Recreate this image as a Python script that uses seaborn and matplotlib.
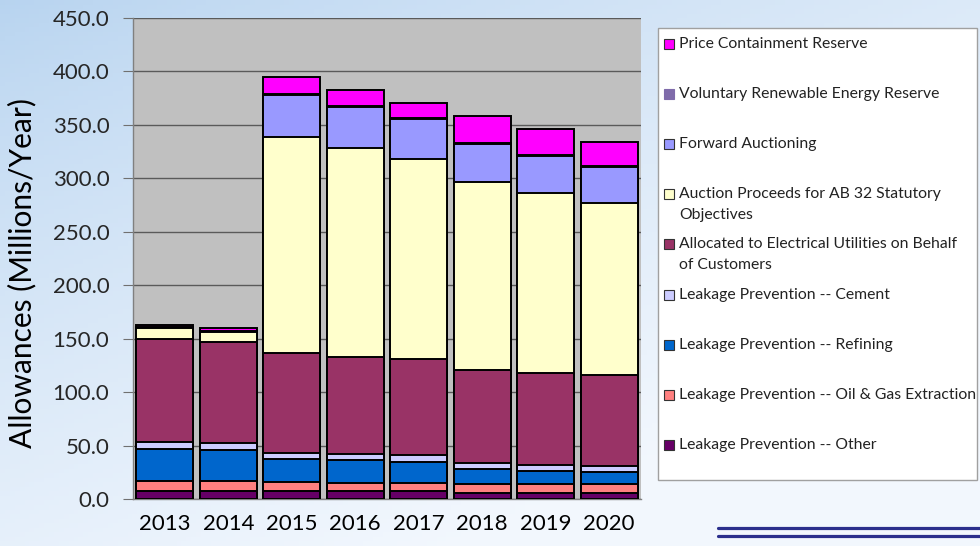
import numpy as np
import seaborn as sns
import matplotlib.pyplot as plt
from matplotlib.patches import Rectangle
from matplotlib.lines import Line2D

# Allowance budget by category, millions of allowances per year
years = ["2013", "2014", "2015", "2016", "2017", "2018", "2019", "2020"]
lp_other = [7.8, 7.8, 7.5, 7.5, 7.5, 5.9, 5.9, 5.9]
lp_oil_gas = [9.0, 9.0, 8.4, 7.8, 7.8, 8.4, 7.8, 7.8]
lp_refining = [30.0, 29.0, 21.2, 21.2, 19.6, 13.5, 12.8, 11.8]
lp_cement = [6.2, 6.3, 5.6, 5.3, 6.3, 5.6, 5.6, 5.7]
utilities = [96.7, 94.5, 93.6, 91.3, 89.8, 87.3, 86.1, 84.8]
auction_proceeds = [10.0, 9.9, 202.1, 194.9, 187.0, 175.8, 168.3, 160.9]
forward_auction = [0.0, 0.0, 39.3, 38.5, 37.3, 35.3, 34.2, 33.4]
vre_reserve = [0.8, 0.8, 1.0, 1.0, 0.9, 0.9, 0.9, 0.8]
price_reserve = [2.3, 2.4, 15.8, 15.0, 14.6, 25.6, 24.9, 23.2]

# bottom-to-top stacking order
series = [
    ("Leakage Prevention -- Other", lp_other, "#660066"),
    ("Leakage Prevention -- Oil & Gas Extraction", lp_oil_gas, "#FF8080"),
    ("Leakage Prevention -- Refining", lp_refining, "#0066CC"),
    ("Leakage Prevention -- Cement", lp_cement, "#CCCCFF"),
    ("Allocated to Electrical Utilities on Behalf\nof Customers", utilities, "#993366"),
    ("Auction Proceeds for AB 32 Statutory\nObjectives", auction_proceeds, "#FFFFCC"),
    ("Forward Auctioning", forward_auction, "#9999FF"),
    ("Voluntary Renewable Energy Reserve", vre_reserve, "#7F6BAA"),
    ("Price Containment Reserve", price_reserve, "#FF00FF"),
]

sns.set_style("white")
plt.rcParams["font.family"] = ["Lato", "DejaVu Sans"]

W, H = 980, 546
fig = plt.figure(figsize=(W / 100, H / 100), dpi=100)


def fx(x):
    return x / W


def fy(y):
    return 1 - y / H


# soft blue slide background
bg = fig.add_axes([0, 0, 1, 1], zorder=-10)
gx, gy = np.meshgrid(np.linspace(0, 1, 200), np.linspace(0, 1, 120))
t = np.clip(0.55 * gx + 0.75 * gy, 0, 1) ** 0.8
blue = np.array([0.72, 0.83, 0.94])
light = np.array([0.95, 0.97, 0.995])
img = blue[None, None, :] * (1 - t[..., None]) + light[None, None, :] * t[..., None]
bg.imshow(img, aspect="auto", extent=[0, 1, 0, 1], origin="upper")
bg.set_axis_off()

ax = fig.add_axes([fx(133), fy(499), fx(641) - fx(133), fy(18) - fy(499)])
ax.set_facecolor("#C0C0C0")

# stacked bars: cumulative totals drawn from the top layer down
cum = np.cumsum(np.array([s[1] for s in series]), axis=0)
for i in reversed(range(len(series))):
    sns.barplot(x=years, y=cum[i], color=series[i][2], saturation=1, width=0.9,
                edgecolor="black", linewidth=1.4, ax=ax, zorder=3)

ax.set_ylim(0, 450)
ax.set_xlim(-0.5, len(years) - 0.5)
yt = np.arange(0, 451, 50)
ax.set_yticks(yt)
ax.set_yticklabels([f"{v:.1f}" for v in yt])
ax.yaxis.grid(True, color="#5A5A5A", linewidth=1.0)
ax.set_axisbelow(True)
ax.set_xticks(np.arange(-0.5, len(years)), minor=True)
ax.tick_params(axis="x", which="major", length=0, pad=11, labelsize=16, colors="black")
ax.tick_params(axis="x", which="minor", length=6, width=0.8, color="#707070", direction="out")
ax.tick_params(axis="y", length=7, width=0.8, color="#707070", pad=10, labelsize=16,
               left=True, direction="out")
for side in ["top", "right"]:
    ax.spines[side].set_visible(False)
for side in ["left", "bottom"]:
    ax.spines[side].set_color("#808080")
    ax.spines[side].set_linewidth(1.0)
ax.set_xlabel("")
ax.set_ylabel("")

fig.text(fx(22), fy(273), "Allowances (Millions/Year)", rotation=90, ha="center",
         va="center", fontsize=21.5, color="black")

# legend panel
fig.patches.append(Rectangle((fx(658), fy(480)), fx(977) - fx(658), fy(28) - fy(480),
                             transform=fig.transFigure, facecolor="white",
                             edgecolor="#A0A0A0", linewidth=1.0, zorder=1))
for k, (label, _, color) in enumerate(reversed(series)):
    yc = 44 + k * 50.1
    fig.patches.append(Rectangle((fx(664), fy(yc + 5)), fx(10), 10 / H,
                                 transform=fig.transFigure, facecolor=color,
                                 edgecolor=color if color == "#7F6BAA" else "#333333",
                                 linewidth=0.8, zorder=2))
    for j, line in enumerate(label.split("\n")):
        fig.text(fx(679), fy(yc + 20.5 * j), line, ha="left", va="center",
                 fontsize=11.3, color="#222222")

# double rule at the bottom right
for yy in (528, 535.5):
    fig.add_artist(Line2D([fx(718), 1.0], [fy(yy), fy(yy)], transform=fig.transFigure,
                          color="#2B2F8C", linewidth=2.3))

fig.savefig("out.png", dpi=100)
